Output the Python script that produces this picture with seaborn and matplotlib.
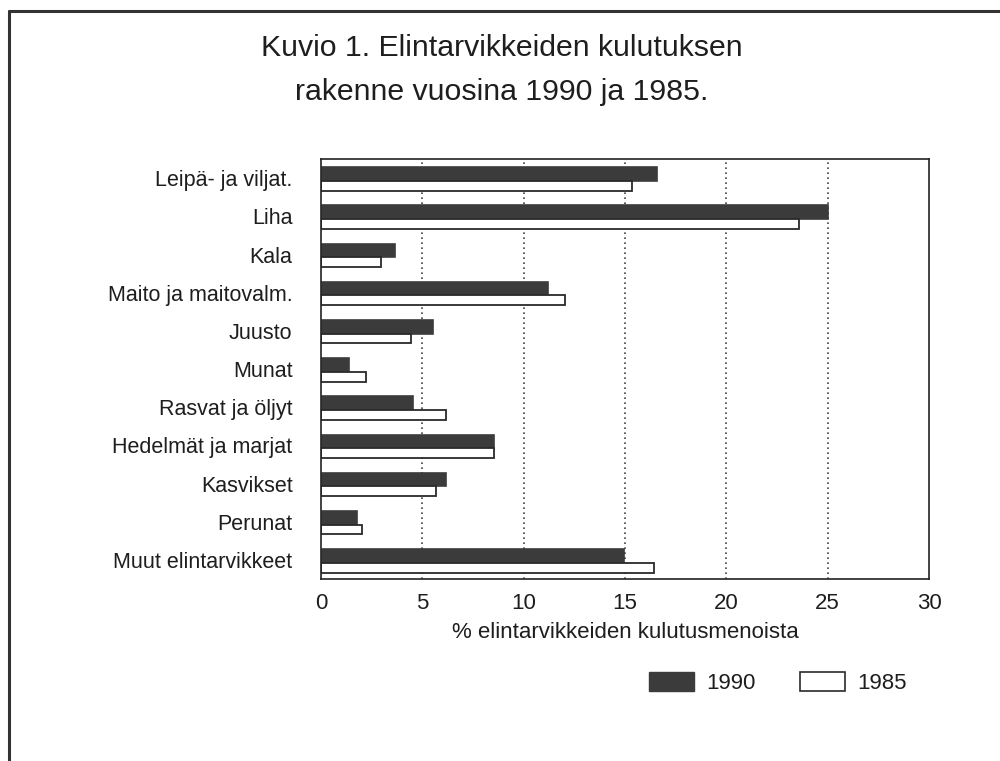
import numpy as np
import pandas as pd
import matplotlib
matplotlib.use("Agg")
import matplotlib.pyplot as plt
import seaborn as sns
from matplotlib.patches import Patch
from matplotlib.lines import Line2D

# Data (% of food consumption expenditure)
categories = [
    "Leipä- ja viljat.",
    "Liha",
    "Kala",
    "Maito ja maitovalm.",
    "Juusto",
    "Munat",
    "Rasvat ja öljyt",
    "Hedelmät ja marjat",
    "Kasvikset",
    "Perunat",
    "Muut elintarvikkeet",
]
values_1990 = [16.6, 25.0, 3.65, 11.2, 5.55, 1.4, 4.55, 8.55, 6.15, 1.8, 14.95]
values_1985 = [15.35, 23.6, 2.95, 12.05, 4.45, 2.2, 6.15, 8.55, 5.65, 2.0, 16.45]
years = ["1990", "1985"]
x_ticks = [0, 5, 10, 15, 20, 25, 30]

df = pd.DataFrame({
    "category": categories * 2,
    "value": values_1990 + values_1985,
    "year": [years[0]] * len(categories) + [years[1]] * len(categories),
})

sns.set_theme(style="white")
plt.rcParams["font.family"] = ["Liberation Sans", "DejaVu Sans"]

DARK = "#3b3b3b"
TEXT = "#1e1e1e"
fig = plt.figure(figsize=(10, 7.61), dpi=100)
ax = fig.add_axes([0.321, 0.239, 0.608, 0.552])

sns.barplot(
    data=df, y="category", x="value", hue="year", orient="h",
    hue_order=years, palette={"1990": DARK, "1985": "white"},
    order=categories, dodge=True, width=0.64, legend=False, ax=ax,
    edgecolor="#2a2a2a", linewidth=1.3,
)

# 1990 bars thicker, 1985 bars thinner (as in the original print)
for i, bar in enumerate(ax.containers[0]):
    bar.set_y(i - 0.31)
    bar.set_height(0.38)
    bar.set_linewidth(0.4)
for i, bar in enumerate(ax.containers[1]):
    bar.set_y(i + 0.07)
    bar.set_height(0.26)

ax.set_xlim(0, 30)
ax.set_ylim(len(categories) - 0.5, -0.5)
ax.set_xticks(x_ticks)
ax.set_xticklabels([str(t) for t in x_ticks], fontsize=16, color=TEXT)
ax.tick_params(axis="y", labelsize=15.5, labelcolor=TEXT, length=0, pad=20.5)
ax.tick_params(axis="x", length=0, pad=10)
ax.set_ylabel("")
ax.set_xlabel("% elintarvikkeiden kulutusmenoista", fontsize=16, color=TEXT, labelpad=6)

for t in [5, 10, 15, 20, 25]:
    ax.axvline(t, color="#444444", linestyle=(0, (1, 2)), linewidth=1.2, zorder=0)
for sp in ax.spines.values():
    sp.set_visible(True)
    sp.set_color("#222222")
    sp.set_linewidth(1.2)

fig.text(0.502, 0.908, "Kuvio 1. Elintarvikkeiden kulutuksen\nrakenne vuosina 1990 ja 1985.",
         ha="center", va="center", fontsize=21.8, linespacing=1.7, color=TEXT)

handles = [
    Patch(facecolor=DARK, edgecolor=DARK, label="1990"),
    Patch(facecolor="white", edgecolor="#2a2a2a", linewidth=1.2, label="1985"),
]
fig.legend(handles=handles, loc="center", bbox_to_anchor=(0.7775, 0.102), ncol=2,
           frameon=False, fontsize=16, handlelength=2.03, handleheight=0.95,
           handletextpad=0.54, columnspacing=2.0, labelcolor=TEXT)

# outer frame of the scanned page (left and top edges visible)
fig.add_artist(Line2D([0.009, 0.009], [0.0, 1 - 11 / 761], color="#333333", linewidth=2.2))
fig.add_artist(Line2D([0.009, 1.0], [1 - 11 / 761, 1 - 11 / 761], color="#333333", linewidth=2.2))

fig.savefig("out.png", dpi=100)
